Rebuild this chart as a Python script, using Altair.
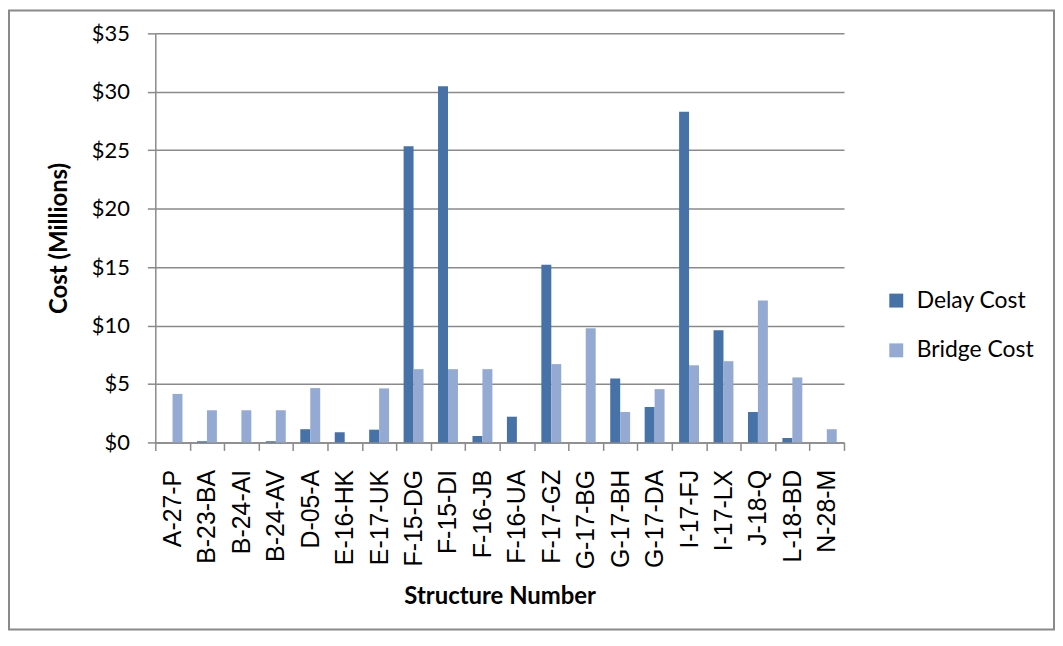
import altair as alt
import pandas as pd

structures = ["A-27-P", "B-23-BA", "B-24-AI", "B-24-AV", "D-05-A", "E-16-HK", "E-17-UK",
              "F-15-DG", "F-15-DI", "F-16-JB", "F-16-UA", "F-17-GZ", "G-17-BG", "G-17-BH",
              "G-17-DA", "I-17-FJ", "I-17-LX", "J-18-Q", "L-18-BD", "N-28-M"]
delay_cost = [0, 0.1, 0, 0.1, 1.13, 0.87, 1.09, 25.35, 30.48, 0.55, 2.2, 15.2, 0,
              5.47, 3.03, 28.3, 9.6, 2.6, 0.38, 0]
bridge_cost = [4.15, 2.75, 2.75, 2.75, 4.65, 0, 4.62, 6.27, 6.27, 6.27, 0, 6.7, 9.76,
               2.6, 4.56, 6.6, 6.95, 12.15, 5.56, 1.13]
series = ["Delay Cost", "Bridge Cost"]
colors = ["#4672A8", "#95AAD3"]
y_ticks = [0, 5, 10, 15, 20, 25, 30, 35]

rows = []
for s, d, b in zip(structures, delay_cost, bridge_cost):
    rows.append({"structure": s, "series": series[0], "value": d})
    rows.append({"structure": s, "series": series[1], "value": b})
df = pd.DataFrame(rows)

gray = "#8A8A8A"

bars = alt.Chart(df).mark_bar().encode(
    x=alt.X("structure:N", sort=structures,
            scale=alt.Scale(paddingInner=0, paddingOuter=0),
            axis=alt.Axis(title="Structure Number", labelAngle=270, tickBand="extent",
                          labelFont="Liberation Sans", labelFontSize=25, labelColor="black",
                          labelPadding=19, tickSize=8, tickColor=gray, tickWidth=1.5,
                          domainColor=gray, domainWidth=1.5, grid=False,
                          titleFont="Lato", titleFontSize=24, titleFontWeight="bold",
                          titleColor="black", titlePadding=16)),
    xOffset=alt.XOffset("series:N", sort=series,
                        scale=alt.Scale(paddingInner=0, paddingOuter=0.73)),
    y=alt.Y("value:Q", scale=alt.Scale(domain=[0, 35], nice=False),
            axis=alt.Axis(values=y_ticks, labelExpr="'$' + datum.value",
                          title="Cost (Millions)", labelFont="Lato", labelFontSize=22,
                          labelColor="black", labelPadding=18, tickSize=8,
                          tickColor=gray, tickWidth=1.5, domainColor=gray, domainWidth=1.5,
                          gridColor=gray, gridWidth=1.5,
                          titleFont="Lato", titleFontSize=24, titleFontWeight="bold",
                          titleColor="black", titlePadding=20)),
    color=alt.Color("series:N", sort=series,
                    scale=alt.Scale(domain=series, range=colors),
                    legend=alt.Legend(title=None, orient="none", legendX=733, legendY=257,
                                      symbolType="square", symbolSize=196,
                                      symbolStrokeWidth=0, labelFont="Lato",
                                      labelFontSize=23, labelColor="black",
                                      labelOffset=9, rowPadding=26, padding=0)),
)

border = alt.Chart(alt.Data(values=[{}])).mark_rect(
    filled=False, stroke=gray, strokeWidth=2
).encode(x=alt.value(-147), x2=alt.value(903), y=alt.value(-23), y2=alt.value(599))

chart = alt.layer(border, bars).properties(
    width=692, height=411,
    autosize=alt.AutoSizeParams(type="none"),
    padding={"left": 148, "top": 24, "right": 212, "bottom": 189},
    background="white",
).configure_view(strokeWidth=0)

chart.save("out.html", embed_options={"renderer": "svg", "actions": False})
